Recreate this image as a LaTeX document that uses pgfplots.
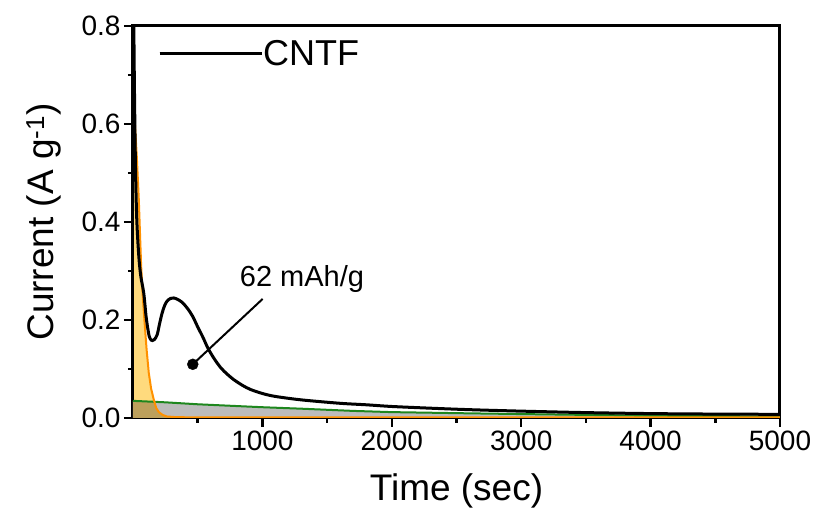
\documentclass[border=0pt]{standalone}
\usepackage{fontspec}
\setmainfont{Liberation Sans}
\usepackage{pgfplots}
\pgfplotsset{compat=1.18}
\definecolor{cntf}{RGB}{0,0,0}
\definecolor{grn}{RGB}{30,135,30}
\definecolor{org}{RGB}{255,145,0}
\definecolor{yel}{RGB}{255,218,125}
\definecolor{gry}{RGB}{188,188,188}
\begin{document}
\begin{tikzpicture}
\path[use as bounding box] (-133pt,-92pt) rectangle (684pt,418pt);
\begin{axis}[
  at={(0pt,0pt)}, anchor=south west,
  scale only axis, width=647pt, height=392pt,
  xmin=0, xmax=5000, ymin=0, ymax=0.8,
  xtick={1000,2000,3000,4000,5000},
  xticklabels={1000,2000,3000,4000,5000},
  minor xtick={500,1500,2500,3500,4500},
  ytick={0,0.2,0.4,0.6,0.8},
  yticklabels={0.0,0.2,0.4,0.6,0.8},
  minor ytick={0.1,0.3,0.5,0.7},
  tick pos=left, tick align=outside,
  major tick length=9pt, minor tick length=5pt,
  every tick/.style={black, line width=2.5pt},
  axis line style={line width=3pt},
  /pgf/number format/assume math mode=true,
  ticklabel style={font=\fontsize{28}{30}\selectfont},
  xlabel={Time (sec)},
  ylabel={Current (A g\textsuperscript{-1})},
  label style={font=\fontsize{37}{40}\selectfont},
  xlabel style={at={(axis description cs:0.5,-0.2092)}, anchor=base},
  ylabel style={at={(axis description cs:-0.1236,0.5)}, anchor=base},
  legend style={draw=none, fill=none, at={(axis description cs:0.0386,0.93)}, anchor=west,
    font=\fontsize{36}{38}\selectfont, inner sep=0pt, nodes={inner sep=0pt}},
  legend image code/.code={\draw[#1] (0pt,0pt) -- (85pt,0pt); \path (0pt,0pt) -- (102pt,0pt);},
]
% grey area under green
\addplot[draw=none, fill=gry, forget plot] table {
x y
0 0.035
250 0.032
500 0.028
1000 0.022
1300 0.019
1700 0.0145
2000 0.012
2600 0.0095
3000 0.008
3900 0.005
5000 0.003
} \closedcycle;
% orange fill
\addplot[draw=none, fill=yel, blend mode=multiply, forget plot] table {
x y
0 0.62
15 0.60
30 0.53
45 0.445
63 0.31
75 0.25
89 0.197
105 0.14
122 0.092
140 0.06
161 0.037
180 0.02
200 0.012
230 0.006
264 0.003
320 0.001
400 0
} \closedcycle;
% green line
\addplot[grn, line width=2pt, forget plot] table {
x y
0 0.035
250 0.032
500 0.028
1000 0.022
1300 0.019
1700 0.0145
2000 0.012
2600 0.0095
3000 0.008
3900 0.005
5000 0.003
};
% orange line
\addplot[org, line width=2pt, forget plot] table {
x y
15 0.60
30 0.53
45 0.445
63 0.31
75 0.25
89 0.197
105 0.14
122 0.092
140 0.06
161 0.037
180 0.02
200 0.012
230 0.006
264 0.003
320 0.002
400 0.0015
5000 0.0015
};
% CNTF
\addplot[cntf, line width=3pt, smooth] table {
x y
0 1.0
10 0.70
20 0.50
30 0.40
45 0.33
60 0.29
83 0.255
100 0.21
110 0.19
125 0.167
140 0.159
150 0.158
165 0.160
187 0.170
205 0.192
225 0.214
245 0.230
265 0.239
290 0.244
315 0.245
345 0.242
380 0.236
420 0.224
460 0.208
500 0.186
540 0.165
580 0.142
630 0.120
680 0.102
730 0.089
780 0.078
850 0.066
910 0.058
1000 0.050
1100 0.044
1300 0.037
1600 0.030
1800 0.027
2000 0.0235
2300 0.020
2600 0.017
3000 0.014
3500 0.011
4000 0.009
4500 0.008
5000 0.0075
};
\addlegendentry{CNTF}
% annotation
\addplot[black, line width=2pt, forget plot] coordinates {(462,0.1096) (1002,0.243)};
\addplot[black, only marks, mark=*, mark size=5.5pt, forget plot] coordinates {(462,0.1096)};
\node[anchor=base, font=\fontsize{29}{31}\selectfont] at (axis cs:1306,0.268) {62 mAh/g};
\end{axis}
\end{tikzpicture}
\end{document}
